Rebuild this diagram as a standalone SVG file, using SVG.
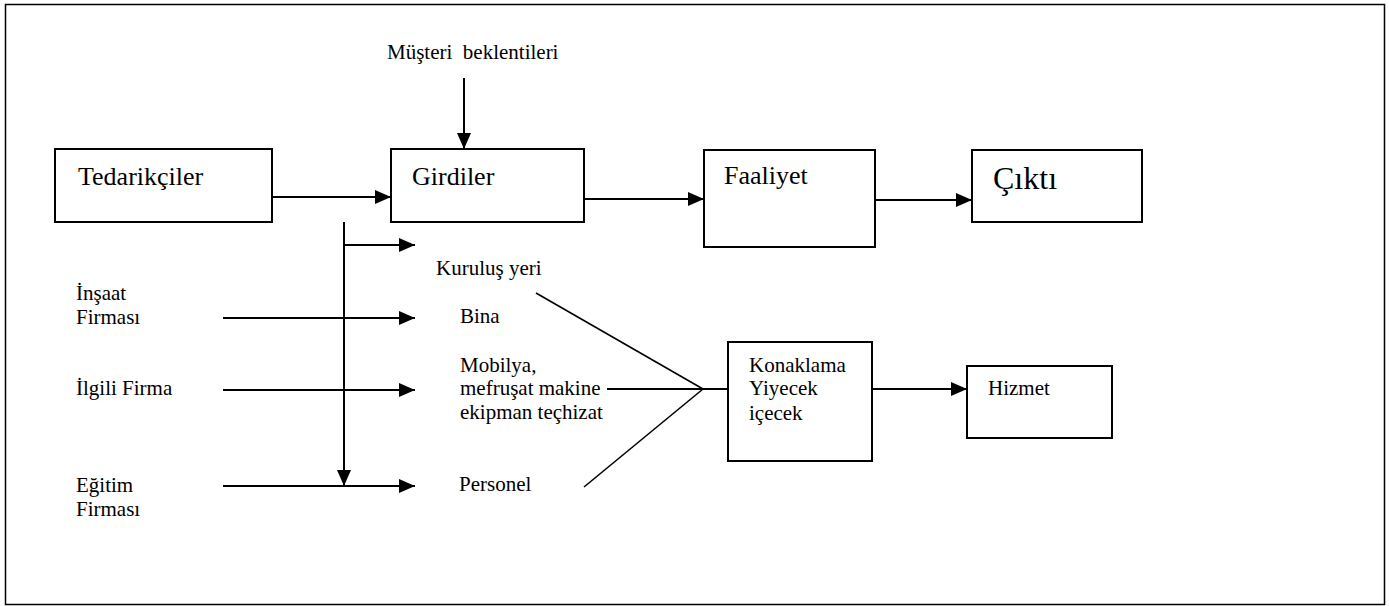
<svg xmlns="http://www.w3.org/2000/svg" width="1389" height="606" viewBox="0 0 1389 606">
  <style>
    .box { fill: #fff; stroke: #000; stroke-width: 2; }
    .frame { fill: none; stroke: #000; stroke-width: 1.5; }
    .t { font-family: "Liberation Serif", "Times New Roman", serif; fill: #000; }
    .big { font-size: 26px; }
    .small { font-size: 21px; }
    .arrow { fill: none; stroke: #000; stroke-width: 2; marker-end: url(#head); }
    .line { fill: none; stroke: #000; stroke-width: 1.6; }
  </style>
  <defs>
    <marker id="head" markerUnits="userSpaceOnUse" markerWidth="16" markerHeight="14" refX="16" refY="7" orient="auto">
      <path d="M0,0 L16,7 L0,14 z" fill="#000"/>
    </marker>
  </defs>

  <rect class="frame" x="5.5" y="4.5" width="1379" height="600"/>

  <!-- connectors -->
  <g id="connectors">
    <line class="arrow" x1="464" y1="78" x2="464" y2="149"/>
    <line class="arrow" x1="272" y1="197" x2="391" y2="197"/>
    <line class="arrow" x1="584" y1="199" x2="704" y2="199"/>
    <line class="arrow" x1="875" y1="200" x2="972" y2="200"/>
    <line class="arrow" x1="344" y1="222" x2="344" y2="486"/>
    <line class="arrow" x1="344" y1="245" x2="415" y2="245"/>
    <line class="arrow" x1="223" y1="318" x2="415" y2="318"/>
    <line class="arrow" x1="223" y1="390" x2="415" y2="390"/>
    <line class="arrow" x1="223" y1="486" x2="415" y2="486"/>
    <line class="line" x1="536" y1="293" x2="703" y2="389"/>
    <line class="line" x1="584" y1="487" x2="703" y2="389"/>
    <line class="arrow" x1="607" y1="389" x2="750" y2="389"/>
    <line class="arrow" x1="872" y1="389" x2="967" y2="389"/>
  </g>

  <g id="musteri">
    <text class="t small" x="387" y="59" xml:space="preserve">Müşteri  beklentileri</text>
  </g>
  <g id="tedarikciler">
    <rect class="box" x="55" y="149" width="217" height="73"/>
    <text class="t big" x="78" y="185">Tedarikçiler</text>
  </g>
  <g id="girdiler">
    <rect class="box" x="391" y="149" width="193" height="73"/>
    <text class="t big" x="412" y="185">Girdiler</text>
  </g>
  <g id="faaliyet">
    <rect class="box" x="704" y="150" width="171" height="97"/>
    <text class="t big" x="724" y="184">Faaliyet</text>
  </g>
  <g id="cikti">
    <rect class="box" x="972" y="150" width="170" height="72"/>
    <text class="t" font-size="32" x="993" y="189">Çıktı</text>
  </g>

  <g id="insaat">
    <text class="t small" x="76" y="300">İnşaat</text>
    <text class="t small" x="76" y="324">Firması</text>
  </g>
  <g id="ilgili">
    <text class="t small" x="76" y="395">İlgili Firma</text>
  </g>
  <g id="egitim">
    <text class="t small" x="76" y="492">Eğitim</text>
    <text class="t small" x="76" y="516">Firması</text>
  </g>

  <g id="kurulus">
    <text class="t small" x="436" y="275">Kuruluş yeri</text>
  </g>
  <g id="bina">
    <text class="t small" x="460" y="323">Bina</text>
  </g>
  <g id="mobilya">
    <text class="t small" x="460" y="372">Mobilya,</text>
    <text class="t small" x="460" y="395">mefruşat makine</text>
    <text class="t small" x="460" y="419">ekipman teçhizat</text>
  </g>
  <g id="personel">
    <text class="t small" x="459" y="491">Personel</text>
  </g>

  <g id="konaklama">
    <rect class="box" x="728" y="342" width="144" height="119"/>
    <text class="t small" x="749" y="372">Konaklama</text>
    <text class="t small" x="749" y="395">Yiyecek</text>
    <text class="t small" x="749" y="420">içecek</text>
  </g>
  <g id="hizmet">
    <rect class="box" x="967" y="366" width="145" height="72"/>
    <text class="t small" x="988" y="395">Hizmet</text>
  </g>
</svg>
